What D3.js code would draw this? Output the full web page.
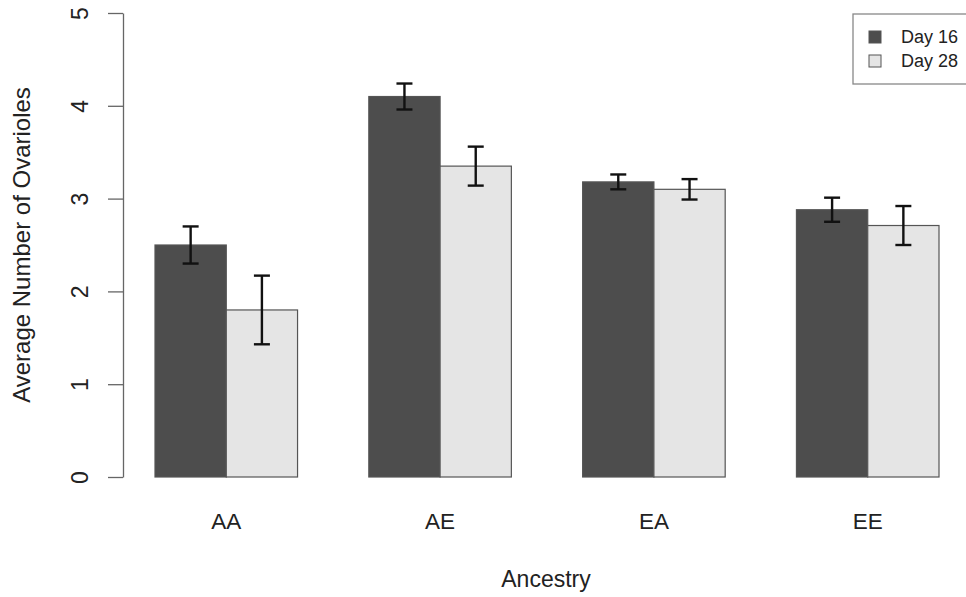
<!DOCTYPE html>
<html>
<head>
<meta charset="utf-8">
<script src="https://cdn.jsdelivr.net/npm/d3@7"></script>
<style>
  body { margin: 0; background: #fff; }
  text { font-family: "Liberation Sans", Arial, sans-serif; fill: #222; }
</style>
</head>
<body>
<script>
'use strict';

// data
const ancestry = ['AA', 'AE', 'EA', 'EE'];
const series = ['Day 16', 'Day 28'];
const day16 = [2.50, 4.10, 3.18, 2.88];
const day28 = [1.80, 3.35, 3.10, 2.71];
const se16 = [0.20, 0.14, 0.08, 0.13];
const se28 = [0.37, 0.21, 0.11, 0.21];
const yTicks = [0, 1, 2, 3, 4, 5];

const colors = ['#4d4d4d', '#e5e5e5'];

let width = 966, height = 597;

let svg = d3.select('body').append('svg')
	.attr('width', width)
	.attr('height', height);

let rows = ancestry.map((a, i) => ({
	group: a,
	vals: [
		{s: series[0], v: day16[i], e: se16[i]},
		{s: series[1], v: day28[i], e: se28[i]}
	]
}));

let x = d3.scaleBand()
	.domain(ancestry)
	.range([155, 939])
	.paddingInner(1 / 3)
	.paddingOuter(0);

let xs = d3.scaleBand()
	.domain(series)
	.range([0, x.bandwidth()]);

let y = d3.scaleLinear()
	.domain([0, 5])
	.range([477, 13]);

let color = d3.scaleOrdinal().domain(series).range(colors);

// bars
let g = svg.selectAll('g.grp')
	.data(rows)
	.join('g')
	.attr('class', 'grp')
	.attr('transform', d => `translate(${x(d.group)},0)`);

g.selectAll('rect')
	.data(d => d.vals)
	.join('rect')
	.attr('x', d => xs(d.s))
	.attr('y', d => y(d.v))
	.attr('width', xs.bandwidth())
	.attr('height', d => y(0) - y(d.v))
	.attr('fill', d => color(d.s))
	.attr('stroke', '#555')
	.attr('stroke-width', 1.2);

// error bars
let eb = g.selectAll('g.err')
	.data(d => d.vals)
	.join('g')
	.attr('class', 'err')
	.attr('stroke', '#111')
	.attr('stroke-width', 2.4);

let cx = d => xs(d.s) + xs.bandwidth() / 2;
eb.append('line')
	.attr('x1', cx).attr('x2', cx)
	.attr('y1', d => y(d.v + d.e))
	.attr('y2', d => y(d.v - d.e));
eb.append('line')
	.attr('x1', d => cx(d) - 8).attr('x2', d => cx(d) + 8)
	.attr('y1', d => y(d.v + d.e))
	.attr('y2', d => y(d.v + d.e));
eb.append('line')
	.attr('x1', d => cx(d) - 8).attr('x2', d => cx(d) + 8)
	.attr('y1', d => y(d.v - d.e))
	.attr('y2', d => y(d.v - d.e));

// y axis
let yAxis = svg.append('g')
	.attr('transform', 'translate(123,0)')
	.call(d3.axisLeft(y).tickValues(yTicks).tickSize(15).tickSizeOuter(0).tickFormat(d3.format('d')));
yAxis.select('.domain').attr('stroke', '#666').attr('stroke-width', 1.3);
yAxis.selectAll('.tick line').attr('stroke', '#666').attr('stroke-width', 1.3);
yAxis.selectAll('.tick text')
	.attr('x', 0).attr('y', 0).attr('dy', 0)
	.attr('transform', 'translate(-35,0) rotate(-90)')
	.attr('text-anchor', 'middle')
	.style('font-size', '23px')
	.style('font-family', '"Liberation Sans", Arial, sans-serif')
	.attr('fill', '#222');

// x labels
svg.selectAll('text.xlab')
	.data(ancestry)
	.join('text')
	.attr('class', 'xlab')
	.attr('x', d => x(d) + x.bandwidth() / 2)
	.attr('y', 529)
	.attr('text-anchor', 'middle')
	.style('font-size', '22.5px')
	.text(d => d);

// titles
svg.append('text')
	.attr('x', 546).attr('y', 587)
	.attr('text-anchor', 'middle')
	.style('font-size', '23px')
	.text('Ancestry');

svg.append('text')
	.attr('transform', 'translate(30,245) rotate(-90)')
	.attr('text-anchor', 'middle')
	.style('font-size', '24px')
	.text('Average Number of Ovarioles');

// legend
let legend = svg.append('g');
legend.append('rect')
	.attr('x', 853).attr('y', 14)
	.attr('width', 140).attr('height', 70)
	.attr('fill', '#fff')
	.attr('stroke', '#888')
	.attr('stroke-width', 1.3);

let li = legend.selectAll('g.item')
	.data(series)
	.join('g')
	.attr('class', 'item')
	.attr('transform', (d, i) => `translate(869,${31 + i * 24})`);
li.append('rect')
	.attr('width', 12).attr('height', 12)
	.attr('fill', d => color(d))
	.attr('stroke', '#555');
li.append('text')
	.attr('x', 32).attr('y', 12)
	.style('font-size', '18px')
	.text(d => d);
</script>
</body>
</html>
